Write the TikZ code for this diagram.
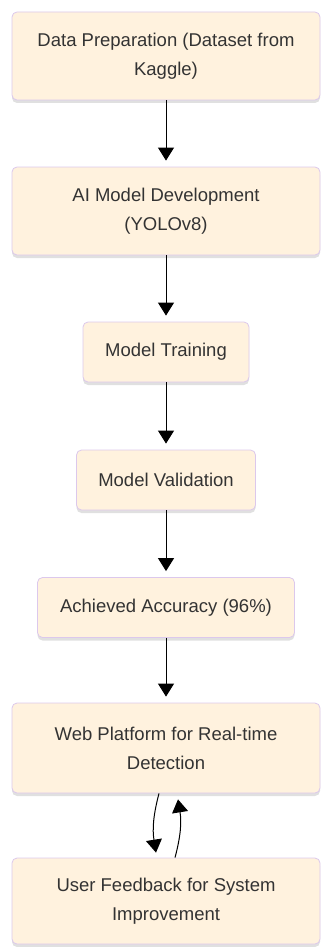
\documentclass[tikz,border=0pt]{standalone}
\usepackage{fontspec}
\setmainfont{Liberation Sans}
\usetikzlibrary{arrows.meta,shadows}
\definecolor{boxfill}{HTML}{FFF2DE}
\definecolor{boxline}{HTML}{DCC8EC}
\definecolor{txt}{HTML}{333333}
\tikzset{
  box/.style={draw=boxline, fill=boxfill, rounded corners=5pt, line width=0.8pt,
    align=center, text=txt, inner sep=0pt,
    font=\fontsize{18.5}{29}\selectfont,
    drop shadow={shadow xshift=0pt, shadow yshift=-3pt, fill=black!20, opacity=.6}},
  arr/.style={-{Triangle[width=16pt,length=13pt]}, line width=1pt, shorten >=6pt}
}
\begin{document}
\begin{tikzpicture}[x=1pt,y=-1pt]
\useasboundingbox (0,0) rectangle (321,947);
\node[box, minimum width=308pt, minimum height=88pt] (prep) at (166,56) {Data Preparation (Dataset from\\Kaggle)};
\node[box, minimum width=308pt, minimum height=88pt] (dev) at (166,211) {AI Model Development\\(YOLOv8)};
\node[box, minimum width=166pt, minimum height=60pt] (train) at (166,352) {Model Training};
\node[box, minimum width=179pt, minimum height=60pt] (valid) at (166,480) {Model Validation};
\node[box, minimum width=257pt, minimum height=60pt] (acc) at (166,607.5) {Achieved Accuracy (96\%)};
\node[box, minimum width=308pt, minimum height=90pt] (web) at (166,748) {Web Platform for Real-time\\Detection};
\node[box, minimum width=308pt, minimum height=86pt] (fb) at (166,901) {User Feedback for System\\Improvement};

\draw[arr](prep)--(dev);
\draw[arr](dev)--(train);
\draw[arr](train)--(valid);
\draw[arr](valid)--(acc);
\draw[arr](acc)--(web);
\draw[arr, shorten >=0pt]([xshift=-7pt]web.south) to[bend right=12] ([xshift=-10pt,yshift=5pt]fb.north);
\draw[arr, shorten >=0pt]([xshift=9pt]fb.north) to[bend right=12] ([xshift=12pt,yshift=-6pt]web.south);

\end{tikzpicture}
\end{document}
